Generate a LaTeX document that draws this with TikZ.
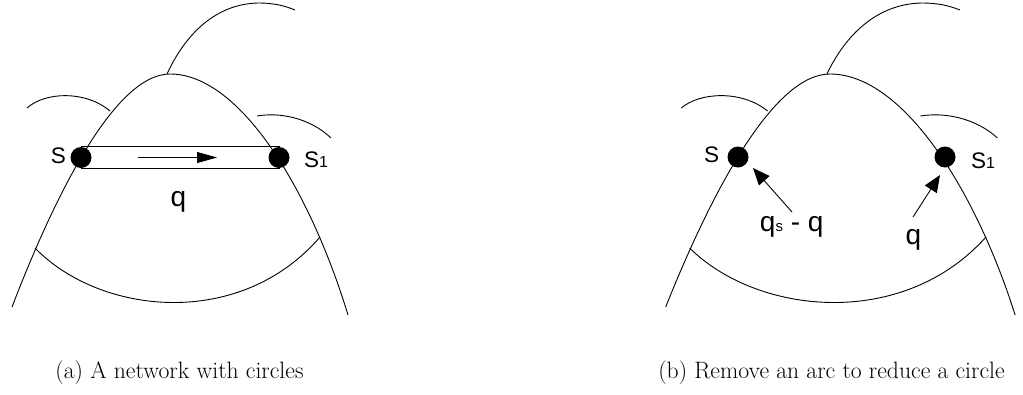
\documentclass[tikz,border=0pt]{standalone}
\usepackage{fontspec}
\newfontfamily\lsans{Liberation Sans}
\usetikzlibrary{arrows.meta,calc}
\tikzset{
  curve/.style={line width=0.9pt, black},
  dot/.style={circle, fill=black, inner sep=0pt, minimum size=21pt},
  slbl/.style={font=\lsans\fontsize{22.5}{24}\selectfont, inner sep=0pt},
  qlbl/.style={font=\lsans\fontsize{28}{30}\selectfont, inner sep=0pt, anchor=base},
  captext/.style={font=\fontsize{23.7}{26}\selectfont, inner sep=0pt, anchor=base},
  flowarrow/.style={line width=0.9pt, -{Triangle[length=20pt,width=11pt]}},
  ptarrow/.style={line width=0.9pt, -{Triangle[length=17pt,width=14pt]}},
}
\newcommand\netcurves{%
  \draw[curve] (-158,307) .. controls (-115,195) and (-55,74) .. (0,74)
                          .. controls (70,74) and (140,190) .. (178,315);
  \draw[curve] (-3,74) .. controls (15,35) and (45,4) .. (88,3) .. controls (105,3) and (115,6) .. (125,10);
  \draw[curve] (-143,108) .. controls (-125,92) and (-85,90) .. (-60,111);
  \draw[curve] (87,116) .. controls (110,112) and (140,118) .. (161,138);
  \draw[curve] (-135,248) .. controls (-70,315) and (70,330) .. (150,237);
}
\newcommand\subone{{\fontsize{16}{17}\selectfont 1}}
\newcommand\subs{{\fontsize{15}{16}\selectfont s}}
\begin{document}
\begin{tikzpicture}[x=1pt,y=-1pt]
\useasboundingbox (0,0) rectangle (1023,394);
% left panel
\begin{scope}[shift={(170,0)}]
  \netcurves
\end{scope}
\coordinate (cS) at (81,157.5);
\coordinate (cS1) at (279,157.5);
\draw[curve] ($(cS)+(0,-11)$) rectangle ($(cS1)+(0,11)$);
\node[dot] (sL) at (cS) {};
\node[dot] (s1L) at (cS1) {};
\coordinate (qa) at (138,157.5);
\coordinate (qb) at (217,157.5);
\draw[flowarrow] (qa) -- (qb);
\node[slbl, anchor=base] (tS) at (58.3,163) {S};
\node[slbl, anchor=base west] (tS1) at (304,167) {S\subone};
\node[qlbl] (tq) at (178.5,206.5) {q};
\node[captext] (capa) at (179.5,378) {(a) A network with circles};
% right panel
\begin{scope}[shift={(830,0)}, xscale=1.04]
  \netcurves
\end{scope}
\node[dot] (sR) at (738,157) {};
\node[dot] (s1R) at (945,157) {};
\coordinate (p1) at (792,212);
\coordinate (t1) at (753,168);
\coordinate (p2) at (913,217);
\coordinate (t2) at (940,175);
\draw[ptarrow] (p1) -- (t1);
\draw[ptarrow] (p2) -- (t2);
\node[slbl, anchor=base] (tSR) at (711.7,162) {S};
\node[slbl, anchor=base west] (tS1R) at (971,168) {S\subone};
\node[qlbl] (tqs) at (791.7,231.5) {q\subs{} - q};
\node[qlbl] (tqR) at (913.3,244.5) {q};
\node[captext] (capb) at (831.5,378) {(b) Remove an arc to reduce a circle};
\end{tikzpicture}
\end{document}
